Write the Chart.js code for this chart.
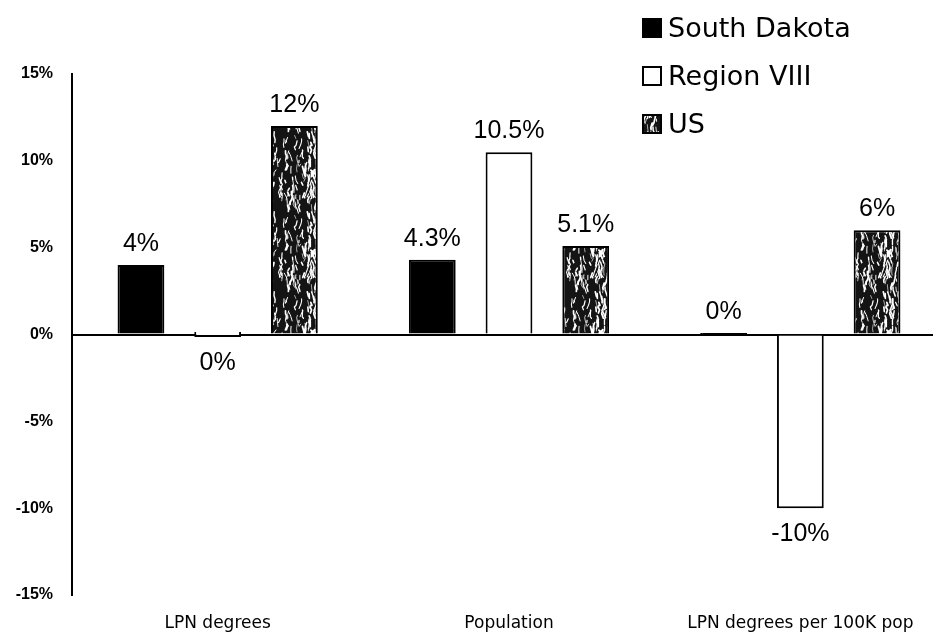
<!DOCTYPE html>
<html>
<head>
<meta charset="utf-8">
<script src="https://cdn.jsdelivr.net/npm/chart.js@4.4.1/dist/chart.umd.min.js"></script>
<style>
  html, body { margin: 0; padding: 0; background: #fff; overflow: hidden; }
  #wrap { width: 960px; height: 634px; }
</style>
</head>
<body>
<div id="wrap"><canvas id="c" width="960" height="634"></canvas></div>
<script>
// Percent change by measure
const categories = ['LPN degrees', 'Population', 'LPN degrees per 100K pop'];
const seriesNames = ['South Dakota', 'Region VIII', 'US'];
const southDakota = [4, 4.3, 0];
const regionVIII = [0, 10.5, -10];
const us = [12, 5.1, 6];
const yTicks = [-15, -10, -5, 0, 5, 10, 15];

const pct = v => v + '%';

// Dark speckled fill used for the US bars (seamless tile)
function speckle() {
  const W = 48, H = 80;
  const c = document.createElement('canvas');
  c.width = W; c.height = H;
  const g = c.getContext('2d');
  g.fillStyle = '#141414';
  g.fillRect(0, 0, W, H);
  let s = 987654;
  const rnd = () => {
    s |= 0; s = (s + 0x6D2B79F5) | 0;
    let t = Math.imul(s ^ (s >>> 15), 1 | s);
    t = (t + Math.imul(t ^ (t >>> 7), 61 | t)) ^ t;
    return ((t ^ (t >>> 14)) >>> 0) / 4294967296;
  };
  g.strokeStyle = '#ffffff';
  g.lineCap = 'round';
  g.lineJoin = 'round';
  for (let i = 0; i < 130; i++) {
    const pts = [];
    let x = rnd() * W, y = rnd() * H;
    pts.push([x, y]);
    const n = 1 + Math.floor(rnd() * 3);
    for (let k = 0; k < n; k++) {
      x += (rnd() - 0.5) * 3.5;
      y += 1.5 + rnd() * 3.5;
      pts.push([x, y]);
    }
    const lw = 0.6 + rnd() * 1.2;
    for (let ox = -W; ox <= W; ox += W) {
      for (let oy = -H; oy <= H; oy += H) {
        g.lineWidth = lw;
        g.beginPath();
        g.moveTo(pts[0][0] + ox, pts[0][1] + oy);
        for (let k = 1; k < pts.length; k++) g.lineTo(pts[k][0] + ox, pts[k][1] + oy);
        g.stroke();
      }
    }
  }
  return g.createPattern(c, 'repeat');
}
const usFill = speckle();

const fills = ['#000000', '#ffffff', usFill];

// Value labels above (or below) each bar
const valueLabels = {
  id: 'valueLabels',
  afterDatasetsDraw(chart) {
    const ctx = chart.ctx;
    ctx.save();
    ctx.fillStyle = '#000';
    ctx.font = '25px "Liberation Sans", Arial, sans-serif';
    ctx.textAlign = 'center';
    ctx.textBaseline = 'alphabetic';
    chart.data.datasets.forEach((ds, i) => {
      const meta = chart.getDatasetMeta(i);
      meta.data.forEach((bar, j) => {
        const v = ds.data[j];
        const p = bar.getProps(['x', 'y', 'base'], true);
        const top = Math.min(p.y, p.base);
        const bottom = Math.max(p.y, p.base);
        const below = v < 0 || (v === 0 && ds.zeroLabelBelow);
        if (below) {
          ctx.fillText(pct(v), p.x, bottom + 33);
        } else {
          ctx.fillText(pct(v), p.x, top - 14);
        }
      });
    });
    ctx.restore();
  }
};

// Legend stacked at the top right
const sideLegend = {
  id: 'sideLegend',
  afterDraw(chart) {
    const ctx = chart.ctx;
    const x = 642, box = 20;
    const baselines = [37, 85, 133];
    ctx.save();
    ctx.font = '27px "DejaVu Sans", sans-serif';
    ctx.textBaseline = 'alphabetic';
    ctx.textAlign = 'left';
    seriesNames.forEach((name, i) => {
      const b = baselines[i];
      const top = b - 19;
      ctx.fillStyle = fills[i];
      ctx.fillRect(x, top, box, box);
      ctx.strokeStyle = '#000';
      ctx.lineWidth = 2;
      ctx.strokeRect(x + 1, top + 1, box - 2, box - 2);
      ctx.fillStyle = '#000';
      ctx.fillText(name, x + 26, b);
    });
    ctx.restore();
  }
};

new Chart(document.getElementById('c'), {
  type: 'bar',
  data: {
    labels: categories,
    datasets: [
      { label: seriesNames[0], data: southDakota, backgroundColor: fills[0], borderColor: '#000', borderWidth: 2, minBarLength: 3 },
      { label: seriesNames[1], data: regionVIII, backgroundColor: fills[1], borderColor: '#000', borderWidth: 2, minBarLength: 5, zeroLabelBelow: true },
      { label: seriesNames[2], data: us, backgroundColor: fills[2], borderColor: '#000', borderWidth: 2 }
    ]
  },
  options: {
    responsive: false,
    animation: false,
    devicePixelRatio: 1,
    barPercentage: 0.61,
    categoryPercentage: 0.79,
    layout: { padding: { top: 74, right: 14, left: 0, bottom: 0 } },
    plugins: {
      legend: { display: false },
      tooltip: { enabled: false }
    },
    scales: {
      x: {
        grid: { display: false, drawTicks: false },
        border: { display: false },
        ticks: {
          color: '#000',
          padding: 18,
          maxRotation: 0,
          autoSkip: false,
          font: { family: '"DejaVu Sans", sans-serif', size: 17 }
        },
        afterFit: s => { s.height = 39; }
      },
      y: {
        min: -15,
        max: 15,
        afterBuildTicks: s => { s.ticks = yTicks.map(v => ({ value: v })); },
        ticks: {
          color: '#000',
          padding: 19,
          callback: v => pct(v),
          font: { family: '"Liberation Sans Narrow", "Liberation Sans", sans-serif', size: 16, weight: 'bold' }
        },
        grid: {
          drawTicks: false,
          color: c => (c.tick && c.tick.value === 0) ? '#000' : 'rgba(0,0,0,0)',
          lineWidth: c => (c.tick && c.tick.value === 0) ? 2 : 1
        },
        border: { display: true, color: '#000', width: 2 },
        afterFit: s => { s.width = 72; }
      }
    }
  },
  plugins: [valueLabels, sideLegend]
});
</script>
</body>
</html>
